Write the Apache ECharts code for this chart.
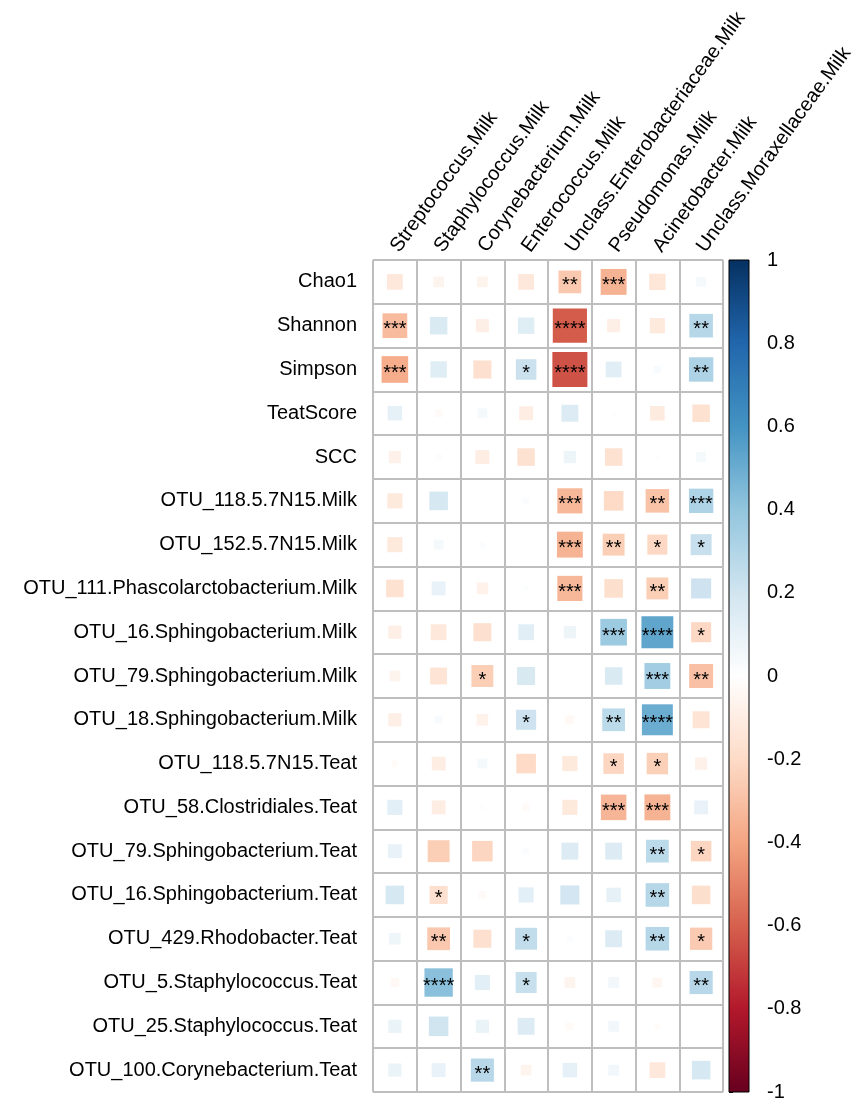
<!DOCTYPE html>
<html><head><meta charset="utf-8">
<script src="https://cdn.jsdelivr.net/npm/echarts@6/dist/echarts.min.js"></script>
<style>html,body{margin:0;padding:0;background:#fff}#c{width:855px;height:1101px}</style>
</head><body><div id="c"></div><script>
const rowLabels = ["Chao1","Shannon","Simpson","TeatScore","SCC","OTU_118.5.7N15.Milk","OTU_152.5.7N15.Milk","OTU_111.Phascolarctobacterium.Milk","OTU_16.Sphingobacterium.Milk","OTU_79.Sphingobacterium.Milk","OTU_18.Sphingobacterium.Milk","OTU_118.5.7N15.Teat","OTU_58.Clostridiales.Teat","OTU_79.Sphingobacterium.Teat","OTU_16.Sphingobacterium.Teat","OTU_429.Rhodobacter.Teat","OTU_5.Staphylococcus.Teat","OTU_25.Staphylococcus.Teat","OTU_100.Corynebacterium.Teat"];
const colLabels = ["Streptococcus.Milk","Staphylococcus.Milk","Corynebacterium.Milk","Enterococcus.Milk","Unclass.Enterobacteriaceae.Milk","Pseudomonas.Milk","Acinetobacter.Milk","Unclass.Moraxellaceae.Milk"];

// correlation values, one array per column (rows top to bottom)
const streptococcus = [-0.13,-0.32,-0.37,0.11,-0.08,-0.12,-0.12,-0.16,-0.09,-0.06,-0.09,-0.02,0.12,0.10,0.18,0.07,-0.04,0.09,0.09];
const staphylococcus = [-0.06,0.16,0.14,-0.03,0.02,0.18,0.05,0.10,-0.13,-0.15,0.03,-0.10,-0.10,-0.25,-0.17,-0.27,0.42,0.20,0.10];
const corynebacterium = [-0.06,-0.09,-0.17,0.05,-0.10,0.01,0.02,-0.07,-0.17,-0.25,-0.07,0.05,-0.01,-0.22,-0.03,-0.17,0.12,0.09,0.28];
const enterococcus = [-0.13,0.14,0.22,-0.10,-0.16,0.02,0.01,0.015,0.13,0.17,0.21,-0.20,-0.03,0.02,0.12,0.25,0.23,0.15,-0.06];
const enterobacteriaceae = [-0.27,-0.61,-0.64,0.15,0.08,-0.33,-0.35,-0.33,0.08,0.01,-0.04,-0.12,-0.12,0.15,0.19,0.02,-0.06,-0.03,0.11];
const pseudomonas = [-0.35,-0.09,0.13,-0.01,-0.16,-0.20,-0.25,-0.18,0.37,0.16,0.27,-0.22,-0.34,0.15,0.11,0.15,0.06,0.06,0.06];
const acinetobacter = [-0.14,-0.12,0.03,-0.11,-0.01,-0.29,-0.21,-0.25,0.53,0.35,0.50,-0.24,-0.35,0.27,0.29,0.29,-0.05,-0.02,-0.13];
const moraxellaceae = [0.05,0.29,0.31,-0.16,0.05,0.31,0.23,0.21,-0.21,-0.30,-0.15,-0.08,0.10,-0.22,-0.18,-0.26,0.28,0.004,0.18];

// significance stars, one array per column
const starsStreptococcus = ["","***","***","","","","","","","","","","","","","","","",""];
const starsStaphylococcus = ["","","","","","","","","","","","","","","*","**","****","",""];
const starsCorynebacterium = ["","","","","","","","","","*","","","","","","","","","**"];
const starsEnterococcus = ["","","*","","","","","","","","*","","","","","*","*","",""];
const starsEnterobacteriaceae = ["**","****","****","","","***","***","***","","","","","","","","","","",""];
const starsPseudomonas = ["***","","","","","","**","","***","","**","*","***","","","","","",""];
const starsAcinetobacter = ["","","","","","**","*","**","****","***","****","*","***","**","**","**","","",""];
const starsMoraxellaceae = ["","**","**","","","***","*","","*","**","","","","*","","*","**","",""];

const colorbarTicks = { min: -1, max: 1, step: 0.2 };
const rdbu = ["#67001F","#B2182B","#D6604D","#F4A582","#FDDBC7","#FFFFFF","#D1E5F0","#92C5DE","#4393C3","#2166AC","#053061"];

const colValues = [streptococcus,staphylococcus,corynebacterium,enterococcus,enterobacteriaceae,pseudomonas,acinetobacter,moraxellaceae];
const colStars = [starsStreptococcus,starsStaphylococcus,starsCorynebacterium,starsEnterococcus,starsEnterobacteriaceae,starsPseudomonas,starsAcinetobacter,starsMoraxellaceae];

const data = [], stars = [];
colValues.forEach((arr, j) => arr.forEach((v, i) => { data.push([j, i, v]); stars.push(colStars[j][i]); }));

const FONT = 'Liberation Sans, Arial, sans-serif';
const chart = echarts.init(document.getElementById('c'), null, { renderer: 'canvas' });
chart.setOption({
  backgroundColor: '#fff',
  animation: false,
  grid: [
    { left: 373, top: 260, width: 350, height: 832, show: false, outerBoundsMode: 'none', containLabel: false },
    { left: 729, top: 260, width: 20, height: 832, show: false, outerBoundsMode: 'none', containLabel: false }
  ],
  xAxis: [
    { type: 'category', data: colLabels, position: 'top', gridIndex: 0,
      axisLine: { show: false }, axisTick: { show: false },
      splitLine: { show: true, interval: 0, lineStyle: { color: '#BEBEBE', width: 2 } },
      axisLabel: { interval: 0, rotate: -54, align: 'left', verticalAlign: 'middle', margin: 10,
        fontSize: 20, color: '#000', fontFamily: FONT, hideOverlap: false } },
    { type: 'value', gridIndex: 1, min: 0, max: 1, show: false }
  ],
  yAxis: [
    { type: 'category', data: rowLabels, inverse: true, gridIndex: 0,
      axisLine: { show: false }, axisTick: { show: false },
      splitLine: { show: true, interval: 0, lineStyle: { color: '#BEBEBE', width: 2 } },
      axisLabel: { interval: 0, margin: 16, fontSize: 20, color: '#000', fontFamily: FONT } },
    { type: 'value', gridIndex: 1, min: colorbarTicks.min, max: colorbarTicks.max, interval: colorbarTicks.step,
      position: 'right', axisLine: { show: false }, splitLine: { show: false },
      axisTick: { show: true, length: 4, lineStyle: { color: '#000', width: 1 } },
      axisLabel: { margin: 18, fontSize: 20, color: '#000', fontFamily: FONT } }
  ],
  visualMap: { type: 'continuous', min: -1, max: 1, dimension: 2, seriesIndex: 0, show: false,
    inRange: { color: rdbu } },
  series: [
    { type: 'custom', xAxisIndex: 0, yAxisIndex: 0, data: data,
      renderItem: function (params, api) {
        const c = api.coord([api.value(0), api.value(1)]);
        const s = api.size([1, 1]);
        const v = api.value(2);
        const k = Math.sqrt(Math.abs(v));
        const w = s[0] * k, h = s[1] * k;
        const children = [{ type: 'rect', shape: { x: c[0] - w / 2, y: c[1] - h / 2, width: w, height: h },
          style: { fill: api.visual('color') } }];
        const st = stars[params.dataIndex];
        if (st) children.push({ type: 'text', x: c[0], y: c[1] + 4,
          style: { text: st, fill: '#000', font: '20px ' + FONT, align: 'center', verticalAlign: 'middle' } });
        return { type: 'group', children: children };
      } },
    { type: 'custom', xAxisIndex: 1, yAxisIndex: 1, data: [[0, 0]],
      renderItem: function (params, api) {
        const p0 = api.coord([0, colorbarTicks.max]);
        const p1 = api.coord([1, colorbarTicks.min]);
        const stops = rdbu.map((col, i) => ({ offset: 1 - i / (rdbu.length - 1), color: col }));
        return { type: 'rect', shape: { x: p0[0], y: p0[1], width: p1[0] - p0[0], height: p1[1] - p0[1] },
          style: { fill: new echarts.graphic.LinearGradient(0, 0, 0, 1, stops.reverse()), stroke: '#000', lineWidth: 1 } };
      } }
  ]
});
</script></body></html>
